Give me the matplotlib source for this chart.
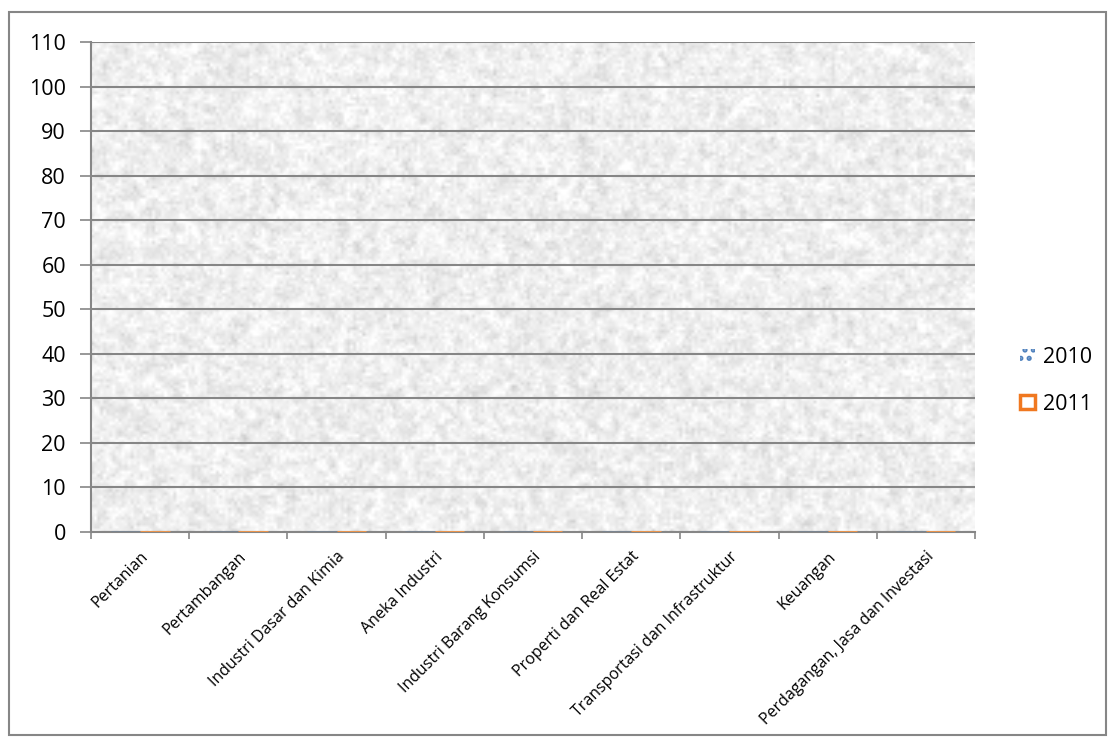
import numpy as np
import matplotlib.pyplot as plt
from matplotlib.patches import Patch, Rectangle

# sektor
sektor = ['Pertanian', 'Pertambangan', 'Industri Dasar dan Kimia', 'Aneka Industri',
          'Industri Barang Konsumsi', 'Properti dan Real Estat',
          'Transportasi dan Infrastruktur', 'Keuangan',
          'Perdagangan, Jasa dan Investasi']
nilai_2010 = [0, 0, 0, 0, 0, 0, 0, 0, 0]
nilai_2011 = [0, 0, 0, 0, 0, 0, 0, 0, 0]
y_ticks = list(range(0, 111, 10))

plt.rcParams['font.family'] = ['Open Sans', 'DejaVu Sans']
plt.rcParams['hatch.linewidth'] = 2.5

fig = plt.figure(figsize=(11.15, 7.4), dpi=100)
ax = fig.add_axes([91 / 1115, 1 - 532 / 740, 884 / 1115, 490 / 740])


def halus(a, n):
    # rata-rata tetangga sederhana
    out = np.zeros_like(a)
    for dy in range(-n, n + 1):
        for dx in range(-n, n + 1):
            out += np.roll(np.roll(a, dy, 0), dx, 1)
    return out / (2 * n + 1) ** 2


# latar bertekstur granit
rng = np.random.default_rng(11)
kasar = halus(rng.normal(0, 1, (160, 290)), 1)
halusan = halus(rng.normal(0, 1, (160, 290)), 0)
tex = 0.935 + 0.075 * kasar + 0.025 * halusan
tex = np.clip(tex, 0.72, 1.0)
ax.imshow(tex, cmap='gray', vmin=0, vmax=1, extent=(-0.5, 8.5, 0, 110),
          aspect='auto', zorder=0, interpolation='bilinear')

x = np.arange(len(sektor))
w = 0.3
ax.bar(x - w / 2, nilai_2010, w, facecolor='white', edgecolor='#4F81BD',
       hatch='..', zorder=3)
ax.bar(x + w / 2, nilai_2011, w, facecolor='white', edgecolor='#F79646',
       linewidth=2, zorder=3)

ax.set_xlim(-0.5, 8.5)
ax.set_ylim(0, 110)
ax.set_yticks(y_ticks)
ax.set_yticklabels([str(v) for v in y_ticks], fontsize=15.5)
ax.yaxis.grid(True, color='#868686', linewidth=1.5)
for gl in ax.get_ygridlines():
    gl.set_zorder(2)

ax.set_xticks(np.arange(-0.5, 9, 1))
ax.set_xticklabels([])
ax.set_xticks(x, minor=True)
ax.set_xticklabels(sektor, minor=True, rotation=45, ha='right',
                   rotation_mode='anchor', fontsize=11.5)
ax.tick_params(axis='x', which='minor', length=0, pad=12)
ax.tick_params(axis='x', which='major', length=5, color='#868686', width=1.2)
ax.tick_params(axis='y', length=8, color='#868686', width=1.2, pad=10)

for s in ['top', 'right']:
    ax.spines[s].set_visible(False)
for s in ['left', 'bottom']:
    ax.spines[s].set_color('#868686')
    ax.spines[s].set_linewidth(1.5)

handles = [Patch(facecolor='white', edgecolor='#4F81BD', hatch='..', linewidth=0),
           Patch(facecolor='white', edgecolor='#F07820', linewidth=2.5)]
fig.legend(handles, ['2010', '2011'], loc='center left',
           bbox_to_anchor=(1001 / 1115, 1 - 381 / 740), frameon=False,
           fontsize=15.5, handlelength=0.7, handleheight=0.6,
           handletextpad=0.35, labelspacing=1.2)

# bingkai luar
fig.patches.append(Rectangle((9 / 1115, 5 / 740), 1097 / 1115, 723 / 740,
                             transform=fig.transFigure, fill=False,
                             edgecolor='#868686', linewidth=1.5))

fig.savefig('out.png', dpi=100)
